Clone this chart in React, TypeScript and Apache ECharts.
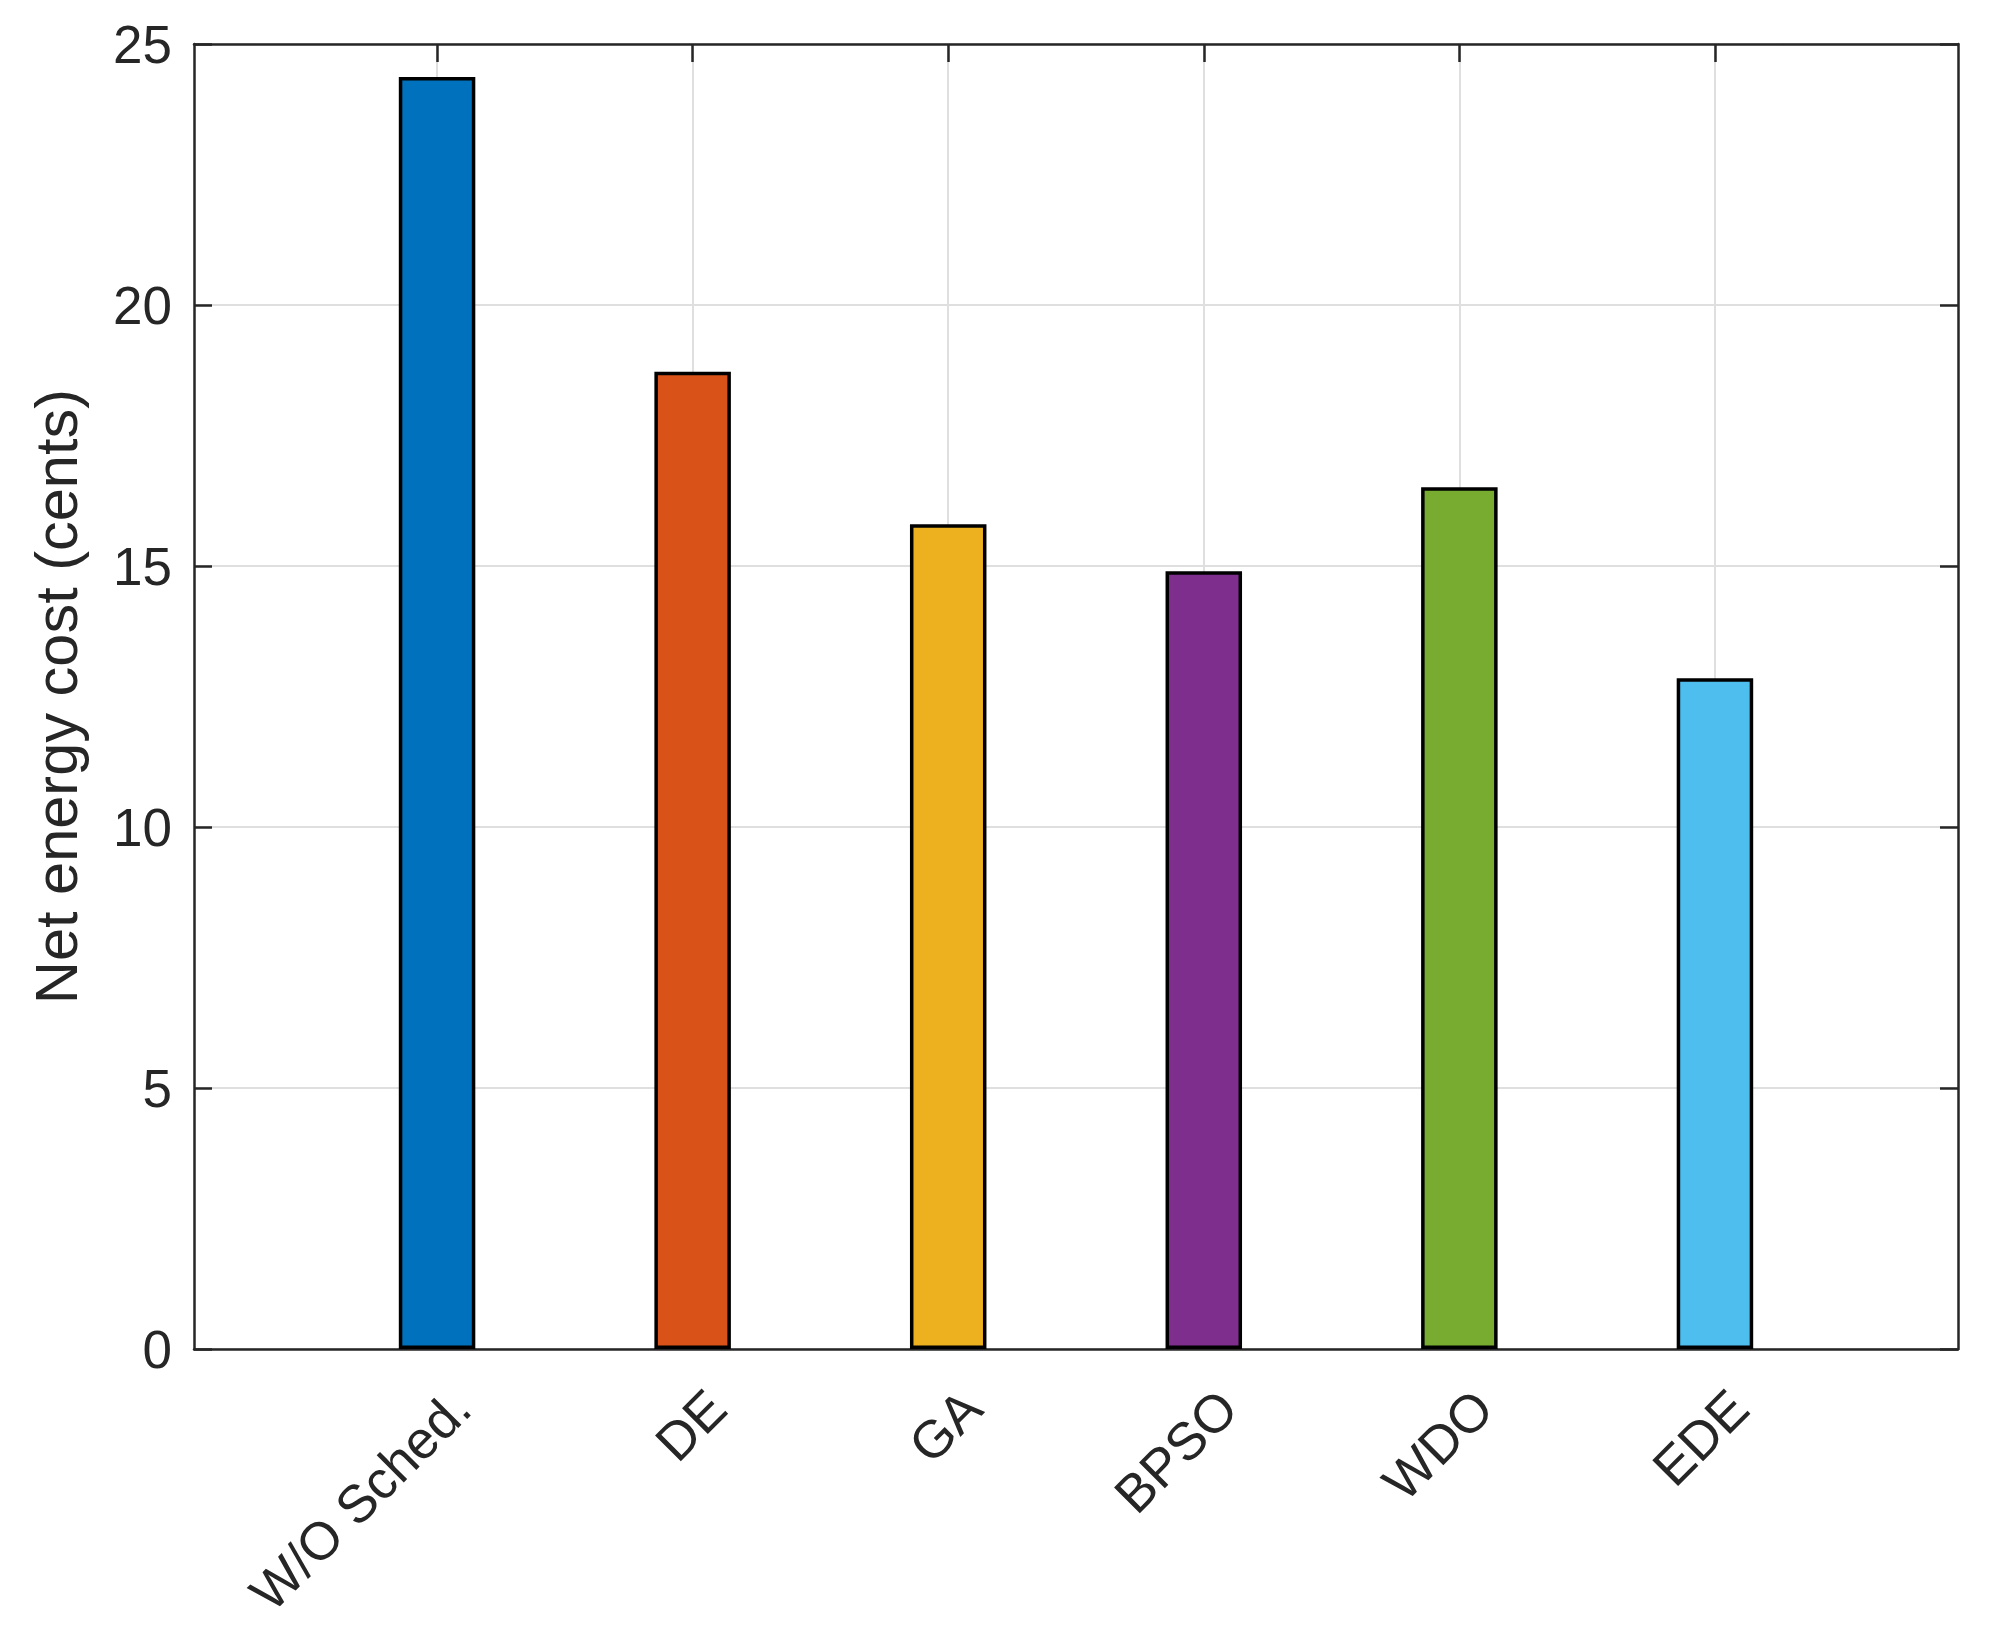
import React, { useEffect, useRef } from "react";
import * as echarts from "echarts";

const categories = ["W/O Sched.", "DE", "GA", "BPSO", "WDO", "EDE"];
const costValues = [24.37, 18.72, 15.8, 14.9, 16.51, 12.85];
const barColors = ["#0072BD", "#D95319", "#EDB120", "#7E2F8E", "#77AC30", "#4DBEEE"];
const categoryPositions = [1, 2, 3, 4, 5, 6];

const FONT = "'Liberation Sans', Arial, Helvetica, sans-serif";
const TEXT = "#262626";
const LABEL_SHIFT = 0.094; // MATLAB-style offset of rotated tick labels (in axis units)

export default function App() {
  const ref = useRef<HTMLDivElement>(null);
  useEffect(() => {
    if (!ref.current) return;
    const chart = echarts.init(ref.current, undefined, { renderer: "svg" });
    const xCommon = {
      type: "value",
      min: 0.049,
      max: 6.951,
      axisLine: { show: true, onZero: false, lineStyle: { color: TEXT, width: 2.5 } },
      axisTick: {
        show: true,
        inside: true,
        length: 18,
        customValues: categoryPositions,
        lineStyle: { color: TEXT, width: 2.5 },
      },
    };
    const yCommon = {
      type: "value",
      min: 0,
      max: 25,
      interval: 5,
      axisLine: { show: true, onZero: false, lineStyle: { color: TEXT, width: 2.5 } },
      axisTick: { show: true, inside: true, length: 18, lineStyle: { color: TEXT, width: 2.5 } },
    };
    chart.setOption({
      animation: false,
      backgroundColor: "#ffffff",
      grid: { left: 194, right: 45, top: 44, bottom: 297, containLabel: false },
      xAxis: [
        {
          ...xCommon,
          position: "bottom",
          axisLabel: {
            show: true,
            customValues: categoryPositions.map((p) => p + LABEL_SHIFT),
            formatter: (v: number) => categories[Math.round(v) - 1] ?? "",
            rotate: 45,
            margin: 50,
            fontSize: 53,
            fontFamily: FONT,
            color: TEXT,
          },
          splitLine: { show: true, lineStyle: { color: "#dfdfdf", width: 2 } },
        },
        {
          ...xCommon,
          position: "top",
          axisLabel: { show: false },
          splitLine: { show: false },
        },
      ],
      yAxis: [
        {
          ...yCommon,
          position: "left",
          name: "Net energy cost (cents)",
          nameLocation: "middle",
          nameGap: 108,
          nameTextStyle: { fontSize: 59.5, fontFamily: FONT, color: TEXT },
          axisLabel: {
            show: true,
            margin: 22,
            fontSize: 53,
            fontFamily: FONT,
            color: TEXT,
            padding: [10, 0, 0, 0],
          },
          splitLine: { show: true, lineStyle: { color: "#dfdfdf", width: 2 } },
        },
        {
          ...yCommon,
          position: "right",
          axisLabel: { show: false },
          splitLine: { show: false },
        },
      ],
      series: [
        {
          type: "bar",
          xAxisIndex: 0,
          yAxisIndex: 0,
          barWidth: 76.5,
          clip: false,
          z: 1,
          data: costValues.map((v, i) => ({
            value: [categoryPositions[i], v],
            itemStyle: { color: barColors[i], borderColor: "#000000", borderWidth: 3.5 },
          })),
        },
      ],
    });
    return () => chart.dispose();
  }, []);
  return (
    <div
      ref={ref}
      style={{ position: "fixed", left: 0, top: 0, width: 2003, height: 1646, background: "#fff" }}
    />
  );
}
